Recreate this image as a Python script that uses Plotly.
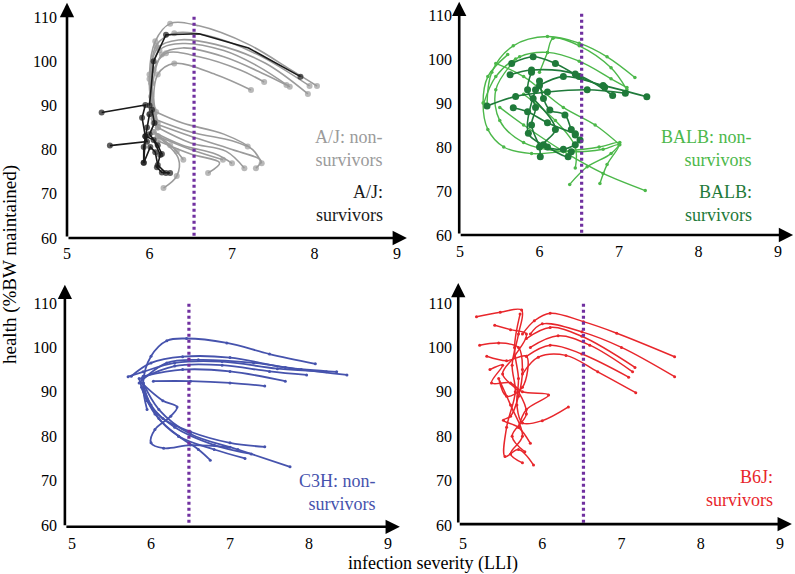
import plotly.graph_objects as go

W, H = 795, 574

X_TICKS = [5, 6, 7, 8, 9]
Y_TICKS = [60, 70, 80, 90, 100, 110]

# ---------------- data (infection severity LLI, health %BW) ----------------
AJ_NON = [
    [(6.05, 88), (6.0, 97), (6.07, 104.5), (6.25, 108.5), (6.6, 108), (7.2, 103.8), (7.7, 98.2), (8.03, 94.4)],
    [(6.1, 86), (6.03, 95), (6.08, 103.5), (6.3, 106.3), (6.7, 105.8), (7.3, 101.6), (7.94, 94.4)],
    [(6.05, 87), (6.0, 96), (6.1, 103), (6.35, 104.8), (6.8, 103.8), (7.4, 99.6), (7.92, 92.6)],
    [(6.1, 85), (6.02, 95), (6.12, 102.5), (6.4, 104), (6.9, 102.4), (7.3, 99), (7.70, 94.2)],
    [(6.02, 92), (6.15, 101.5), (6.4, 103), (6.9, 101), (7.4, 97), (7.66, 94.6)],
    [(6.0, 88), (6.05, 98), (6.2, 101.8), (6.6, 101), (7.1, 98), (7.39, 95.3)],
    [(6.05, 89), (6.1, 97), (6.3, 99.5), (6.8, 97), (7.23, 93.5)],
    [(6.08, 88.5), (6.4, 86), (6.9, 83.5), (7.25, 80), (7.36, 76.9)],
    [(6.05, 87), (6.5, 84), (7.0, 82), (7.19, 80.7)],
    [(6.05, 86), (6.5, 83), (7.0, 80), (7.35, 77.5), (7.29, 75.8)],
    [(6.1, 85), (6.5, 81.5), (6.93, 79.6), (7.15, 75.8)],
    [(6.05, 84), (6.4, 81), (6.8, 79), (7.0, 76.9)],
    [(6.1, 83), (6.5, 80), (6.89, 77.7)],
    [(6.1, 82), (6.5, 79), (6.85, 77), (6.71, 74.7)],
    [(6.05, 84), (6.25, 81), (6.33, 79.6), (6.41, 77.7)],
    [(6.1, 83), (6.35, 78), (6.33, 74), (6.17, 71.3)],
]
AJ_SURV = [
    [(6.0, 90), (6.05, 100), (6.2, 106), (6.6, 106.2), (7.2, 103), (7.83, 96.5)],
    [(5.42, 88.4), (5.95, 90.1), (5.91, 87.2), (5.95, 83), (5.93, 77)],
    [(5.52, 80.9), (5.97, 81.8), (5.95, 83), (6.05, 82.2), (6.13, 78.8), (6.09, 76), (6.15, 74.8), (6.25, 74.7)],
    [(6.0, 88), (5.97, 85), (5.93, 80.6), (5.93, 77), (6.01, 80.6), (6.07, 79.4), (6.1, 76.5), (6.2, 74.7)],
    [(6.03, 89), (6.06, 86), (6.0, 83.5), (6.1, 81), (6.15, 79)],
]
BALB_NON = [
    [(5.34, 89.3), (5.4, 97), (5.67, 103), (6.1, 105.1), (6.5, 103.6), (6.85, 100.5), (7.20, 95.8)],
    [(6.0, 97), (6.1, 101.5), (6.17, 104.7), (6.5, 103), (6.9, 98), (7.1, 93.0)],
    [(5.3, 90), (5.45, 96), (5.75, 100.5), (6.1, 101.5), (6.5, 99.5), (6.9, 95.5), (7.1, 93.5)],
    [(5.6, 101), (5.35, 96), (5.29, 90), (5.35, 84), (5.55, 80), (5.9, 78.5), (6.3, 79), (6.75, 80), (7.01, 81.0), (6.9, 78.5), (6.6, 75.5), (6.38, 71.5)],
    [(5.7, 100), (5.45, 93), (5.5, 86), (5.8, 81), (6.3, 79), (6.8, 79.5), (7.0, 80.5), (6.85, 76), (6.76, 71.7)],
    [(5.5, 89), (5.8, 85), (6.3, 79), (6.8, 74), (7.33, 70.1)],
    [(5.8, 92), (6.2, 86), (6.45, 80), (6.45, 75.2)],
    [(5.45, 99), (5.8, 96), (6.3, 89), (6.7, 85), (7.01, 80.5)],
]
BALB_SURV = [
    [(5.65, 99.0), (5.92, 100.5), (6.2, 99), (6.5, 96), (6.82, 93.6)],
    [(5.63, 96.4), (5.9, 97.5), (6.45, 96.6), (6.92, 91.7)],
    [(5.34, 89.3), (5.7, 91.5), (6.1, 92.5), (6.6, 93), (7.08, 92.2)],
    [(6.0, 94), (6.3, 96), (6.8, 94), (7.35, 91.4)],
    [(5.9, 97), (5.85, 93), (5.95, 89), (5.9, 85), (6.0, 80), (6.01, 77.8)],
    [(6.0, 95), (6.05, 91), (6.13, 88.4), (6.32, 87.3), (6.4, 84), (6.45, 82.7), (6.51, 81.6)],
    [(5.95, 93), (5.86, 83.1), (6.1, 80), (6.36, 77.8), (6.4, 78.9)],
    [(5.67, 88.9), (5.85, 88), (6.1, 85.5), (6.45, 83)],
    [(5.92, 91), (6.2, 84), (6.05, 80.5), (6.3, 79.5), (6.45, 80.5)],
]
C3H_NON = [
    [(5.95, 86), (5.9, 92), (6.0, 98), (6.2, 101.5), (6.45, 102.0), (6.96, 101.0), (7.5, 98.5), (8.08, 96.3)],
    [(5.75, 93.5), (6.0, 96.5), (6.4, 97.9), (7.0, 97.7), (7.7, 95.5), (8.35, 94.5)],
    [(5.85, 92), (6.2, 96.5), (6.6, 97.2), (7.3, 96.5), (7.9, 95), (8.48, 93.8)],
    [(5.71, 93.4), (5.9, 94.5), (6.3, 96.5), (6.9, 96.8), (7.6, 95.2), (8.22, 94.5)],
    [(5.88, 93), (6.3, 95.8), (6.9, 96), (7.5, 94.6), (7.97, 93.8)],
    [(5.9, 93.5), (6.4, 95), (7.0, 94.6), (7.70, 92.4)],
    [(6.03, 92.4), (6.5, 92.4), (7.0, 92.0), (7.44, 91.3)],
    [(5.85, 93), (5.95, 88), (6.15, 84), (6.5, 81), (7.0, 78.5), (7.44, 77.6)],
    [(5.9, 92), (6.0, 87), (6.3, 82), (6.8, 78), (7.27, 76.0)],
    [(5.88, 91), (6.05, 85), (6.35, 80), (6.8, 77), (7.19, 75.0)],
    [(5.92, 90), (6.1, 84), (6.35, 80), (6.6, 77), (6.75, 74.6)],
    [(5.9, 92), (6.1, 86), (6.5, 80.5), (7.1, 77), (7.76, 73.1)],
    [(5.88, 92), (6.15, 88), (6.33, 86.6), (6.25, 84.5), (6.05, 81.5), (6.0, 78.5), (6.16, 77.3), (6.5, 78), (7.0, 77.5)],
]
B6J_SURV = [
    [(5.75, 103), (5.9, 106), (6.1, 107.7), (6.52, 105.8), (6.94, 103.2), (7.67, 97.9)],
    [(5.85, 103), (6.0, 105.3), (6.5, 103.5), (7.0, 100), (7.67, 93.4)],
    [(5.8, 102), (6.1, 104.5), (6.5, 102.5), (7.17, 95.5)],
    [(5.85, 100), (6.2, 102.6), (6.6, 100.5), (7.14, 94.5)],
    [(5.8, 98), (6.1, 100.5), (6.5, 98.5), (7.09, 93.3)],
    [(5.75, 94), (5.95, 97.8), (6.3, 98.2), (6.7, 94.5), (7.18, 89.8)],
    [(5.17, 106.9), (5.47, 107.9), (5.74, 108.4), (5.7, 103), (5.62, 96), (5.66, 90), (5.55, 82), (5.53, 75.4), (5.7, 77), (5.89, 73.5)],
    [(5.21, 100.5), (5.45, 101), (5.7, 100), (5.75, 95), (5.7, 89), (5.6, 84.5), (5.51, 83.6), (5.7, 82), (5.85, 78.4)],
    [(5.34, 95), (5.5, 96), (5.36, 92), (5.6, 92), (5.75, 90), (6.08, 89.3), (5.8, 86), (5.7, 82)],
    [(5.72, 107.5), (5.65, 100), (5.7, 93), (5.68, 87), (5.75, 83), (6.0, 83.5), (6.33, 86.6)],
    [(5.3, 98), (5.55, 97), (5.8, 98), (5.75, 91), (5.55, 89), (5.45, 93), (5.6, 87), (5.75, 80), (5.6, 76), (5.75, 74)],
    [(5.4, 105), (5.6, 104), (5.8, 103), (5.65, 98), (5.5, 94), (5.7, 90), (5.8, 85), (5.62, 80), (5.78, 76.5)],
]
THRESHOLDS = [6.54, 6.53, 6.48, 6.52]

# ---------------- layout geometry (pixels) ----------------
PANELS = [
    dict(px5=67, pxu=82.5, py60=238, pyu=4.42, box=(52, 415, 0, 250), xlab=242, ylab=57,
         ax0=5.0, axy=60.0, xtip=9.12, ytip=113.2),
    dict(px5=460, pxu=79.5, py60=235, pyu=4.40, box=(445, 795, 0, 248), xlab=240, ylab=452,
         ax0=4.99, axy=60.0, xtip=9.19, ytip=113.0),
    dict(px5=72, pxu=79.0, py60=525, pyu=4.44, box=(52, 415, 278, 535), xlab=532, ylab=57,
         ax0=4.91, axy=59.6, xtip=9.15, ytip=114.1),
    dict(px5=463, pxu=79.25, py60=525, pyu=4.44, box=(445, 795, 278, 535), xlab=532, ylab=452,
         ax0=4.94, axy=60.2, xtip=9.15, ytip=114.5),
]

GRAY = "#9b9b9b"
BLACK = "#1a1a1a"
LGREEN = "#4cb84a"
DGREEN = "#1f7a3a"
BLUE = "#4653ad"
RED = "#e8262b"
PURPLE = "#7030a0"
FONT = "Liberation Serif, Times New Roman, serif"

fig = go.Figure()


def add_curves(curves, idx, color, width, msize, shape="spline", dot_rule=None):
    xa = "x" if idx == 0 else f"x{idx+1}"
    ya = "y" if idx == 0 else f"y{idx+1}"
    for c in curves:
        xs = [p[0] for p in c]
        ys = [p[1] for p in c]
        if dot_rule == "aj":
            sizes = [msize if (x < 6.35 or i == len(xs) - 1) else 0 for i, x in enumerate(xs)]
        else:
            sizes = msize
        fig.add_trace(go.Scatter(
            x=xs, y=ys, mode="lines+markers", xaxis=xa, yaxis=ya,
            line=dict(color=color, width=width, shape=shape, smoothing=1.0),
            marker=dict(color=color, size=sizes, line=dict(width=0)),
            showlegend=False, hoverinfo="skip"))


add_curves(AJ_NON, 0, GRAY, 1.6, 6, dot_rule="aj")
add_curves(AJ_SURV, 0, BLACK, 1.6, 6, shape="linear", dot_rule="aj")
add_curves(BALB_NON, 1, LGREEN, 1.4, 3.5)
add_curves(BALB_SURV, 1, DGREEN, 1.6, 7)
add_curves(C3H_NON, 2, BLUE, 1.8, 3)
add_curves(B6J_SURV, 3, RED, 1.5, 3)

layout = dict(width=W, height=H, margin=dict(l=0, r=0, t=0, b=0, autoexpand=False),
              paper_bgcolor="white", plot_bgcolor="white", showlegend=False)
shapes = []
annotations = []

for i, p in enumerate(PANELS):
    L, R, T, B = p["box"]
    xr = [5 + (L - p["px5"]) / p["pxu"], 5 + (R - p["px5"]) / p["pxu"]]
    yr = [60 + (p["py60"] - B) / p["pyu"], 60 + (p["py60"] - T) / p["pyu"]]
    xk = "xaxis" if i == 0 else f"xaxis{i+1}"
    yk = "yaxis" if i == 0 else f"yaxis{i+1}"
    xid = "x" if i == 0 else f"x{i+1}"
    yid = "y" if i == 0 else f"y{i+1}"
    layout[xk] = dict(domain=[L / W, R / W], range=xr, anchor="free",
                      position=1 - p["xlab"] / H, tickvals=X_TICKS,
                      ticktext=[str(v) for v in X_TICKS], ticks="", showgrid=False,
                      zeroline=False, showline=False, automargin=False,
                      tickfont=dict(family=FONT, size=16, color="black"), fixedrange=True)
    layout[yk] = dict(domain=[1 - B / H, 1 - T / H], range=yr, anchor="free",
                      position=p["ylab"] / W, tickvals=Y_TICKS,
                      ticktext=[str(v) for v in Y_TICKS], ticks="", showgrid=False,
                      zeroline=False, showline=False, automargin=False,
                      tickfont=dict(family=FONT, size=16, color="black"), fixedrange=True)
    shapes.append(dict(type="line", xref=xid, yref=yid, x0=THRESHOLDS[i], x1=THRESHOLDS[i],
                       y0=60.5, y1=110.3, line=dict(color=PURPLE, width=3.2, dash="3px,3px")))
    annotations.append(dict(xref=xid, yref=yid, axref=xid, ayref=yid, x=p["xtip"], y=p["axy"],
                            ax=p["ax0"], ay=p["axy"], text="", showarrow=True, arrowhead=2,
                            arrowsize=1.1, arrowwidth=2.6, arrowcolor="black", standoff=0))
    annotations.append(dict(xref=xid, yref=yid, axref=xid, ayref=yid, x=p["ax0"], y=p["ytip"],
                            ax=p["ax0"], ay=p["axy"], text="", showarrow=True, arrowhead=2,
                            arrowsize=1.1, arrowwidth=2.6, arrowcolor="black", standoff=0))

LABELS = [
    ("A/J: non-<br>survivors", GRAY, 385, 148),
    ("A/J:<br>survivors", BLACK, 385, 204),
    ("BALB: non-<br>survivors", LGREEN, 754, 148),
    ("BALB:<br>survivors", DGREEN, 754, 204),
    ("C3H: non-<br>survivors", BLUE, 378, 492),
    ("B6J:<br>survivors", RED, 775, 488),
]
for txt, col, px, py in LABELS:
    annotations.append(dict(xref="paper", yref="paper", x=px / W, y=1 - py / H, text=txt,
                            showarrow=False, xanchor="right", yanchor="middle", align="right",
                            font=dict(family=FONT, size=18, color=col)))

annotations.append(dict(xref="paper", yref="paper", x=433 / W, y=1 - 563 / H,
                        text="infection severity (LLI)", showarrow=False,
                        xanchor="center", yanchor="middle",
                        font=dict(family=FONT, size=18, color="black")))
annotations.append(dict(xref="paper", yref="paper", x=10 / W, y=1 - 265 / H,
                        text="health (%BW maintained)", showarrow=False, textangle=-90,
                        xanchor="center", yanchor="middle",
                        font=dict(family=FONT, size=19, color="black")))

layout["shapes"] = shapes
layout["annotations"] = annotations
fig.update_layout(**layout)
fig.write_html("out.html", config={"displayModeBar": False},
               post_script="document.body.style.margin='0';document.body.style.padding='0';")
